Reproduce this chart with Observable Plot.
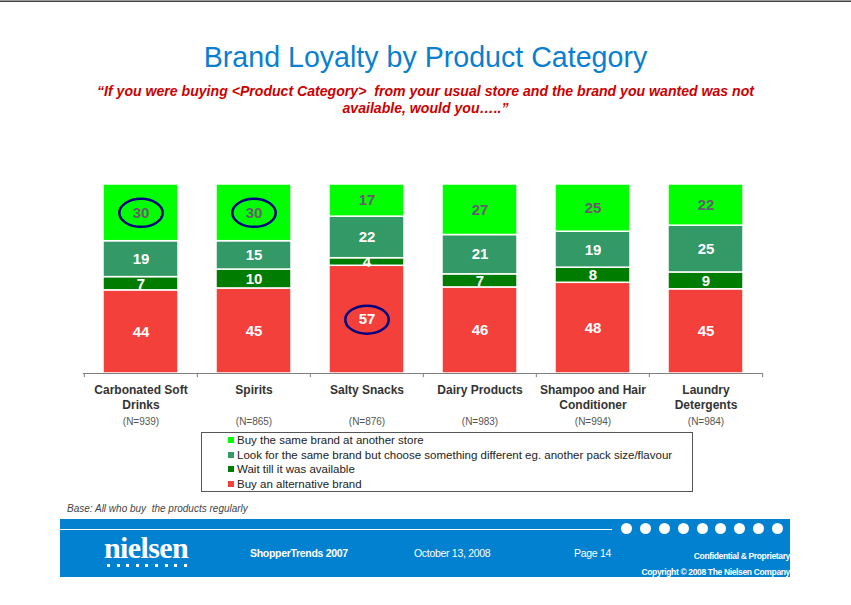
<!DOCTYPE html>
<html>
<head>
<meta charset="utf-8">
<script src="https://cdn.jsdelivr.net/npm/d3@7"></script>
<script src="https://cdn.jsdelivr.net/npm/@observablehq/plot@0.6"></script>
<style>
  html, body { margin: 0; padding: 0; background: #fff; }
  body { width: 851px; height: 605px; position: relative; overflow: hidden; font-family: "Liberation Sans", Arial, sans-serif; }
  .abs { position: absolute; }
  #topline { left: 0; top: 0; width: 851px; height: 1px; background: #9a9a9a; border-bottom: 1px solid #444; }
  #title { left: 0; width: 851px; top: 39px; text-align: center; font-size: 28.6px; color: #0a7fd0; line-height: 36px; }
  #subtitle { left: 0; width: 851px; top: 83px; text-align: center; font-size: 14.1px; font-weight: bold; font-style: italic; color: #cc0000; line-height: 16.5px; }
  #chart { left: 0; top: 170px; }
  #legend { left: 201px; top: 432px; width: 490px; height: 58px; border: 1px solid #555; font-size: 11.5px; color: #222; }
  .lrow { position: relative; height: 14.6px; line-height: 14.6px; padding-left: 35px; white-space: nowrap; }
  .lsw { position: absolute; left: 26px; top: 4px; width: 6px; height: 6px; }
  #base { left: 67px; top: 503px; font-size: 10px; font-style: italic; color: #444; }
  #footer { left: 60px; top: 519px; width: 730px; height: 58px; background: #0281d1; color: #fff; }
  #fline { left: 0; top: 9.5px; width: 552px; height: 1.5px; background: #fff; }
  #fdots { left: 561px; top: 4px; display: flex; gap: 7.9px; }
  .fdot { width: 11px; height: 11px; border-radius: 50%; background: #fff; }
  #logo { left: 44px; top: 14px; font-family: "Liberation Serif", "DejaVu Serif", serif; font-size: 30px; font-weight: bold; letter-spacing: -0.6px; line-height: 30px; }
  #logodots { left: 47px; top: 45px; display: flex; gap: 6.6px; }
  .ld { width: 3px; height: 3px; background: #fff; }
  .ft { font-size: 10.5px; letter-spacing: -0.3px; line-height: 12px; white-space: nowrap; }
  .fs { font-size: 8.5px; font-weight: bold; letter-spacing: -0.35px; line-height: 10px; white-space: nowrap; right: 0; }
</style>
</head>
<body>
<div id="topline" class="abs"></div>
<div id="title" class="abs">Brand Loyalty by Product Category</div>
<div id="subtitle" class="abs">“If you were buying &lt;Product Category&gt;&nbsp; from your usual store and the brand you wanted was not<br>available, would you…..”</div>
<div id="chart" class="abs"></div>
<div id="legend" class="abs"></div>
<div id="base" class="abs">Base: All who buy&nbsp; the products regularly</div>
<div id="footer" class="abs">
  <div id="fline" class="abs"></div>
  <div id="fdots" class="abs"></div>
  <div id="logo" class="abs">nielsen</div>
  <div id="logodots" class="abs"></div>
  <div class="abs ft" style="left:190px;top:28px;font-weight:bold;">ShopperTrends 2007</div>
  <div class="abs ft" style="left:354px;top:28px;">October 13, 2008</div>
  <div class="abs ft" style="left:514px;top:28px;">Page 14</div>
  <div class="abs fs" style="top:32px;">Confidential &amp; Proprietary</div>
  <div class="abs fs" style="top:48px;">Copyright © 2008 The Nielsen Company</div>
</div>
<script>
// ---- Data ----
const categories = ["Carbonated Soft Drinks", "Spirits", "Salty Snacks", "Dairy Products", "Shampoo and Hair Conditioner", "Laundry Detergents"];
const categoryLabels = ["Carbonated Soft\nDrinks", "Spirits", "Salty Snacks", "Dairy Products", "Shampoo and Hair\nConditioner", "Laundry\nDetergents"];
const sampleSizes = ["(N=939)", "(N=865)", "(N=876)", "(N=983)", "(N=994)", "(N=984)"];

// series, bottom to top
const seriesNames = [
  "Buy an alternative brand",
  "Wait till it was available",
  "Look for the same brand but choose something different eg. another pack size/flavour",
  "Buy the same brand at another store"
];
const buyAlternativeBrand = [44, 45, 57, 46, 48, 45];
const waitTillAvailable = [7, 10, 4, 7, 8, 9];
const lookForSameBrand = [19, 15, 22, 21, 19, 25];
const buySameBrandOtherStore = [30, 30, 17, 27, 25, 22];
const seriesColors = ["#f4403b", "#007d00", "#339966", "#00ff00"];
const legendOrder = [3, 2, 1, 0];

// circled values: [category, series]
const highlighted = [
  ["Carbonated Soft Drinks", "Buy the same brand at another store"],
  ["Spirits", "Buy the same brand at another store"],
  ["Salty Snacks", "Buy an alternative brand"]
];

// ---- Build table ----
const seriesValues = [buyAlternativeBrand, waitTillAvailable, lookForSameBrand, buySameBrandOtherStore];
const data = [];
categories.forEach((c, i) => {
  seriesNames.forEach((s, j) => {
    data.push({category: c, series: s, value: seriesValues[j][i]});
  });
});
const topSeries = seriesNames[seriesNames.length - 1];
const isHi = d => highlighted.some(([c, s]) => c === d.category && s === d.series);

const W = 851, mL = 83, mR = 88, mT = 14, mB = 60, H = 263;
const step = (W - mL - mR) / categories.length;

const ellipse = {
  draw(ctx, size) {
    const r = Math.sqrt(size / Math.PI);
    const rx = r * 1.55, ry = r, k = 0.5523;
    ctx.moveTo(rx, 0);
    ctx.bezierCurveTo(rx, ry * k, rx * k, ry, 0, ry);
    ctx.bezierCurveTo(-rx * k, ry, -rx, ry * k, -rx, 0);
    ctx.bezierCurveTo(-rx, -ry * k, -rx * k, -ry, 0, -ry);
    ctx.bezierCurveTo(rx * k, -ry, rx, -ry * k, rx, 0);
    ctx.closePath();
  }
};

const stackOpts = {x: "category", y: "value", z: "series", offset: "normalize", order: seriesNames};

const chart = Plot.plot({
  width: W,
  height: H,
  marginLeft: mL,
  marginRight: mR,
  marginTop: mT,
  marginBottom: mB,
  style: {fontFamily: "'Liberation Sans', Arial, sans-serif", background: "transparent"},
  x: {type: "band", domain: categories, paddingInner: 0.34, paddingOuter: 0.17, axis: null},
  y: {domain: [0, 1], axis: null},
  color: {domain: seriesNames, range: seriesColors},
  marks: [
    Plot.barY(data, {x: "category", y: "value", fill: "series", offset: "normalize", order: seriesNames, stroke: "white", strokeWidth: 1.5}),
    Plot.text(data, Plot.stackY({...stackOpts, text: d => String(d.value), fill: "white", fillOpacity: d => d.series === topSeries ? 0 : 1, fontSize: 15, fontWeight: "bold"})),
    Plot.text(data, Plot.stackY({...stackOpts, text: d => String(d.value), fill: "#6a5a6e", fillOpacity: d => d.series === topSeries ? 1 : 0, fontSize: 15, fontWeight: "bold"})),
    Plot.dot(data, Plot.stackY({...stackOpts, symbol: ellipse, r: 14, fill: "none", stroke: "#000080", strokeWidth: 2.5, strokeOpacity: d => isHi(d) ? 1 : 0})),
    Plot.ruleY([0], {stroke: "#808080", strokeWidth: 1.2}),
    Plot.ruleX(categories, {x: d => d, y1: 0, y2: -0.022, dx: -step / 2, stroke: "#808080"}),
    Plot.ruleX(categories.slice(-1), {x: d => d, y1: 0, y2: -0.022, dx: step / 2, stroke: "#808080"}),
    Plot.axisX({domain: categories, tickSize: 0, tickPadding: 10, tickFormat: d => categoryLabels[categories.indexOf(d)], fontSize: 12, fontWeight: "bold", fill: "#333", lineHeight: 1.25, label: null}),
    Plot.text(categories, {x: d => d, frameAnchor: "bottom", dy: 51, text: (d, i) => sampleSizes[i], fontSize: 10, fill: "#555"})
  ]
});
document.getElementById("chart").appendChild(chart);

// legend
const legend = document.getElementById("legend");
legendOrder.forEach(j => {
  const row = document.createElement("div");
  row.className = "lrow";
  const sw = document.createElement("span");
  sw.className = "lsw";
  sw.style.background = seriesColors[j];
  row.appendChild(sw);
  row.appendChild(document.createTextNode(seriesNames[j]));
  legend.appendChild(row);
});

// footer decorations
const fd = document.getElementById("fdots");
for (let i = 0; i < 9; i++) { const d = document.createElement("div"); d.className = "fdot"; fd.appendChild(d); }
const ld = document.getElementById("logodots");
for (let i = 0; i < 9; i++) { const d = document.createElement("div"); d.className = "ld"; ld.appendChild(d); }
</script>
</body>
</html>
